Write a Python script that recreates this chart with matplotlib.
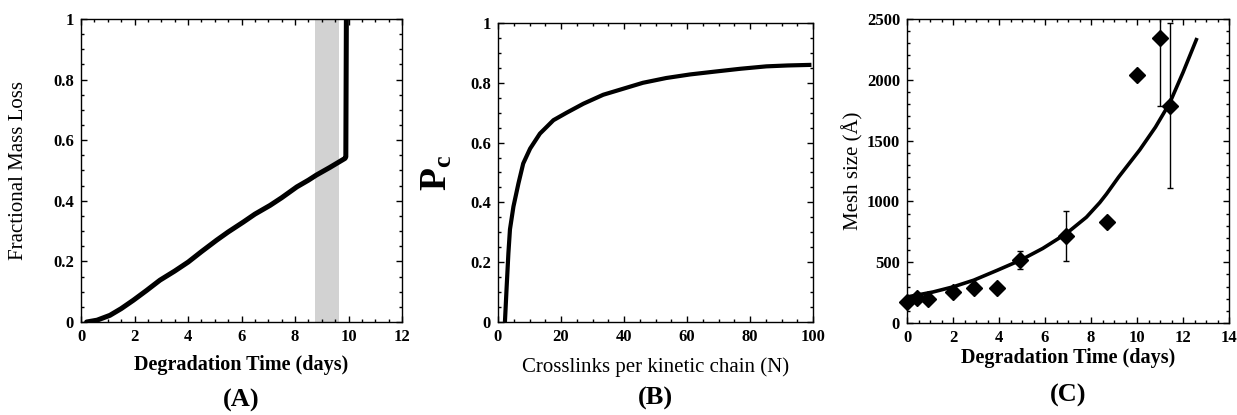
import numpy as np
import matplotlib
matplotlib.use('Agg')
import matplotlib.pyplot as plt
from matplotlib.ticker import MultipleLocator, FuncFormatter

plt.rcParams['font.family'] = ['Liberation Serif', 'DejaVu Serif']
plt.rcParams['mathtext.fontset'] = 'custom'
plt.rcParams['mathtext.rm'] = 'Liberation Serif'
plt.rcParams['mathtext.bf'] = 'Liberation Serif:bold'

# (A) fractional mass loss vs degradation time
A_T    = [0.21, 0.6, 1.08, 1.5, 1.96, 2.45, 2.95, 3.5, 4.01, 4.5, 5.07, 5.5, 6.07,
          6.5, 7.07, 7.5, 8.07, 8.5, 8.8, 9.3, 9.87, 9.9, 9.92]
A_LOSS = [0.0, 0.006, 0.022, 0.044, 0.072, 0.104, 0.138, 0.168, 0.198, 0.232, 0.27,
          0.297, 0.33, 0.356, 0.385, 0.41, 0.446, 0.468, 0.485, 0.51, 0.54, 0.545, 1.0]
A_BAND = (8.75, 9.63)

# (B) P_c vs crosslinks per kinetic chain
B_N  = [2.2, 2.75, 3.3, 3.8, 4.9, 6.5, 8.0, 10.2, 13.3, 17.6, 21.8, 27.1, 33.4,
        39.7, 46.0, 53.4, 61.0, 69.3, 77.0, 85.2, 92.0, 99.5]
B_PC = [0.0, 0.118, 0.23, 0.31, 0.386, 0.464, 0.53, 0.58, 0.63, 0.675, 0.70, 0.73,
        0.76, 0.78, 0.80, 0.816, 0.828, 0.838, 0.847, 0.855, 0.858, 0.86]

# (C) mesh size vs degradation time
C_T     = [0.0, 0.43, 0.91, 2.0, 2.9, 3.93, 4.93, 6.93, 8.7, 10.0, 10.99, 11.45]
C_MESH  = [173, 209, 195, 255, 288, 288, 516, 714, 832, 2042, 2345, 1786]
C_ERR_LO = [0, 20, 0, 0, 0, 0, 68, 203, 0, 30, 564, 678]
C_ERR_HI = [0, 20, 0, 0, 0, 0, 75, 209, 0, 30, 400, 682]
FIT_T    = [0.0, 1.13, 2.0, 2.9, 3.93, 4.93, 5.9, 6.93, 7.8, 8.38, 8.67, 9.2, 10.12,
            10.8, 11.42, 12.0, 12.58]
FIT_MESH = [214, 255, 297, 352, 434, 516, 613, 736, 870, 990, 1060, 1200, 1424,
            1610, 1808, 2060, 2330]

fig = plt.figure(figsize=(12.37, 4.15), dpi=100)
W, H = 1237.0, 415.0


def add_ax(x0, x1, ytop, ybot):
    return fig.add_axes([x0 / W, (H - ybot) / H, (x1 - x0) / W, (ybot - ytop) / H])


def style(ax, xmaj, xmin, ymaj, ymin):
    ax.xaxis.set_major_locator(MultipleLocator(xmaj))
    ax.xaxis.set_minor_locator(MultipleLocator(xmin))
    ax.yaxis.set_major_locator(MultipleLocator(ymaj))
    ax.yaxis.set_minor_locator(MultipleLocator(ymin))
    fmt = FuncFormatter(lambda v, p: '%g' % round(v, 6))
    ax.xaxis.set_major_formatter(fmt)
    ax.yaxis.set_major_formatter(fmt)
    ax.tick_params(which='both', direction='in', top=True, right=True, width=1)
    ax.tick_params(which='major', length=4, labelsize=12, pad=5)
    ax.tick_params(which='minor', length=2)
    for lab in ax.get_xticklabels() + ax.get_yticklabels():
        lab.set_fontweight('bold')
    for s in ax.spines.values():
        s.set_linewidth(1.0)


# ---- (A)
axA = add_ax(81, 402, 19, 322)
axA.axvspan(*A_BAND, color='#d2d2d2', lw=0)
axA.plot(A_T, A_LOSS, color='k', lw=3.6, solid_capstyle='round', solid_joinstyle='round')
axA.set_xlim(0, 12); axA.set_ylim(0, 1)
style(axA, 2, 0.5, 0.2, 0.05)
axA.set_xlabel('Degradation Time (days)', fontsize=14.5, fontweight='bold')
axA.set_ylabel('Fractional Mass Loss', fontsize=15)
axA.xaxis.set_label_coords(0.5, -0.142); axA.xaxis.label.set_va('center')
axA.yaxis.set_label_coords(-0.196, 0.5); axA.yaxis.label.set_va('center')

# ---- (B)
axB = add_ax(498, 813, 23, 322)
axB.plot(B_N, B_PC, color='k', lw=3.0, solid_capstyle='butt', solid_joinstyle='round')
axB.set_xlim(0, 100); axB.set_ylim(0, 1)
style(axB, 20, 5, 0.2, 0.05)
axB.set_xlabel('Crosslinks per kinetic chain (N)', fontsize=15)
axB.set_ylabel(r'$\mathbf{P_c}$', fontsize=27)
axB.xaxis.set_label_coords(0.5, -0.15); axB.xaxis.label.set_va('center')
axB.yaxis.set_label_coords(-0.194, 0.5); axB.yaxis.label.set_va('center')

# ---- (C)
axC = add_ax(907, 1229, 19, 323)
axC.plot(FIT_T, FIT_MESH, color='k', lw=2.6, solid_joinstyle='round')
axC.errorbar(C_T, C_MESH, yerr=[C_ERR_LO, C_ERR_HI], fmt='none',
             ecolor='k', elinewidth=1.0, capsize=2, capthick=1.0)
axC.plot(C_T, C_MESH, 'D', color='k', ms=8, clip_on=False, zorder=4)
axC.set_xlim(0, 14); axC.set_ylim(0, 2500)
style(axC, 2, 0.5, 500, 100)
axC.set_xlabel('Degradation Time (days)', fontsize=14.5, fontweight='bold')
axC.set_ylabel('Mesh size (Å)', fontsize=15)
axC.xaxis.set_label_coords(0.5, -0.115); axC.xaxis.label.set_va('center')
axC.yaxis.set_label_coords(-0.168, 0.5); axC.yaxis.label.set_va('center')

for ax, lab, y in [(axA, '(A)', 400), (axB, '(B)', 398), (axC, '(C)', 395)]:
    pos = ax.get_position()
    fig.text((pos.x0 + pos.x1) / 2, (H - y) / H, lab, ha='center', va='center',
             fontsize=19, fontweight='bold')

fig.savefig('out.png', dpi=100)
